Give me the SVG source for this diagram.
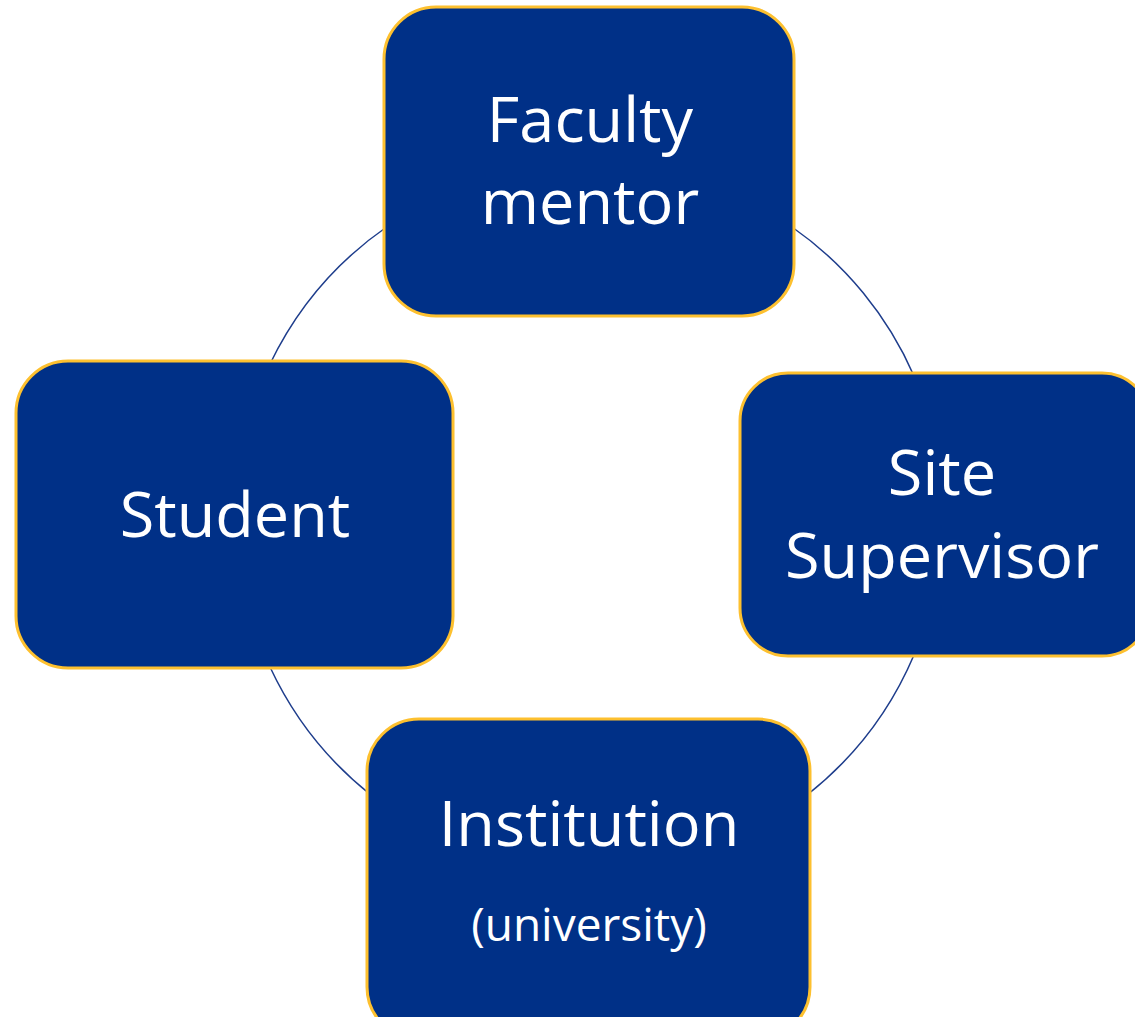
<svg xmlns="http://www.w3.org/2000/svg" width="1135" height="1017" viewBox="0 0 1135 1017">
<style>
.box{fill:#003087;stroke:#FDC02F;stroke-width:3}
.arc{fill:none;stroke:#1E3D8C;stroke-width:1.5}
.t{font-family:"Open Sans","Liberation Sans",sans-serif;fill:#FFFFFF;text-anchor:middle;font-size:63px}
.s{font-size:46px}
</style>
<rect width="1135" height="1017" fill="#FFFFFF"/>
<g id="connectors">
<path class="arc" d="M 270 364 A 354 354 0 0 1 388 226"/>
<path class="arc" d="M 792 227 A 354 354 0 0 1 914 376"/>
<path class="arc" d="M 914 655 A 354 354 0 0 1 807 795"/>
<path class="arc" d="M 371 795 A 354 354 0 0 1 270 667"/>
</g>
<g id="faculty-mentor">
<rect class="box" x="384" y="7" width="410" height="309" rx="52"/>
<text class="t" x="590" y="142">Faculty</text>
<text class="t" x="590" y="224">mentor</text>
</g>
<g id="site-supervisor">
<rect class="box" x="740" y="373" width="410" height="283" rx="48"/>
<text class="t" x="942" y="495">Site</text>
<text class="t" x="942" y="578">Supervisor</text>
</g>
<g id="student">
<rect class="box" x="16" y="361" width="437" height="307" rx="52"/>
<text class="t" x="235" y="537">Student</text>
</g>
<g id="institution">
<rect class="box" x="367" y="719" width="443" height="320" rx="52"/>
<text class="t" x="589" y="846">Institution</text>
<text class="t s" x="589" y="941">(university)</text>
</g>
</svg>
